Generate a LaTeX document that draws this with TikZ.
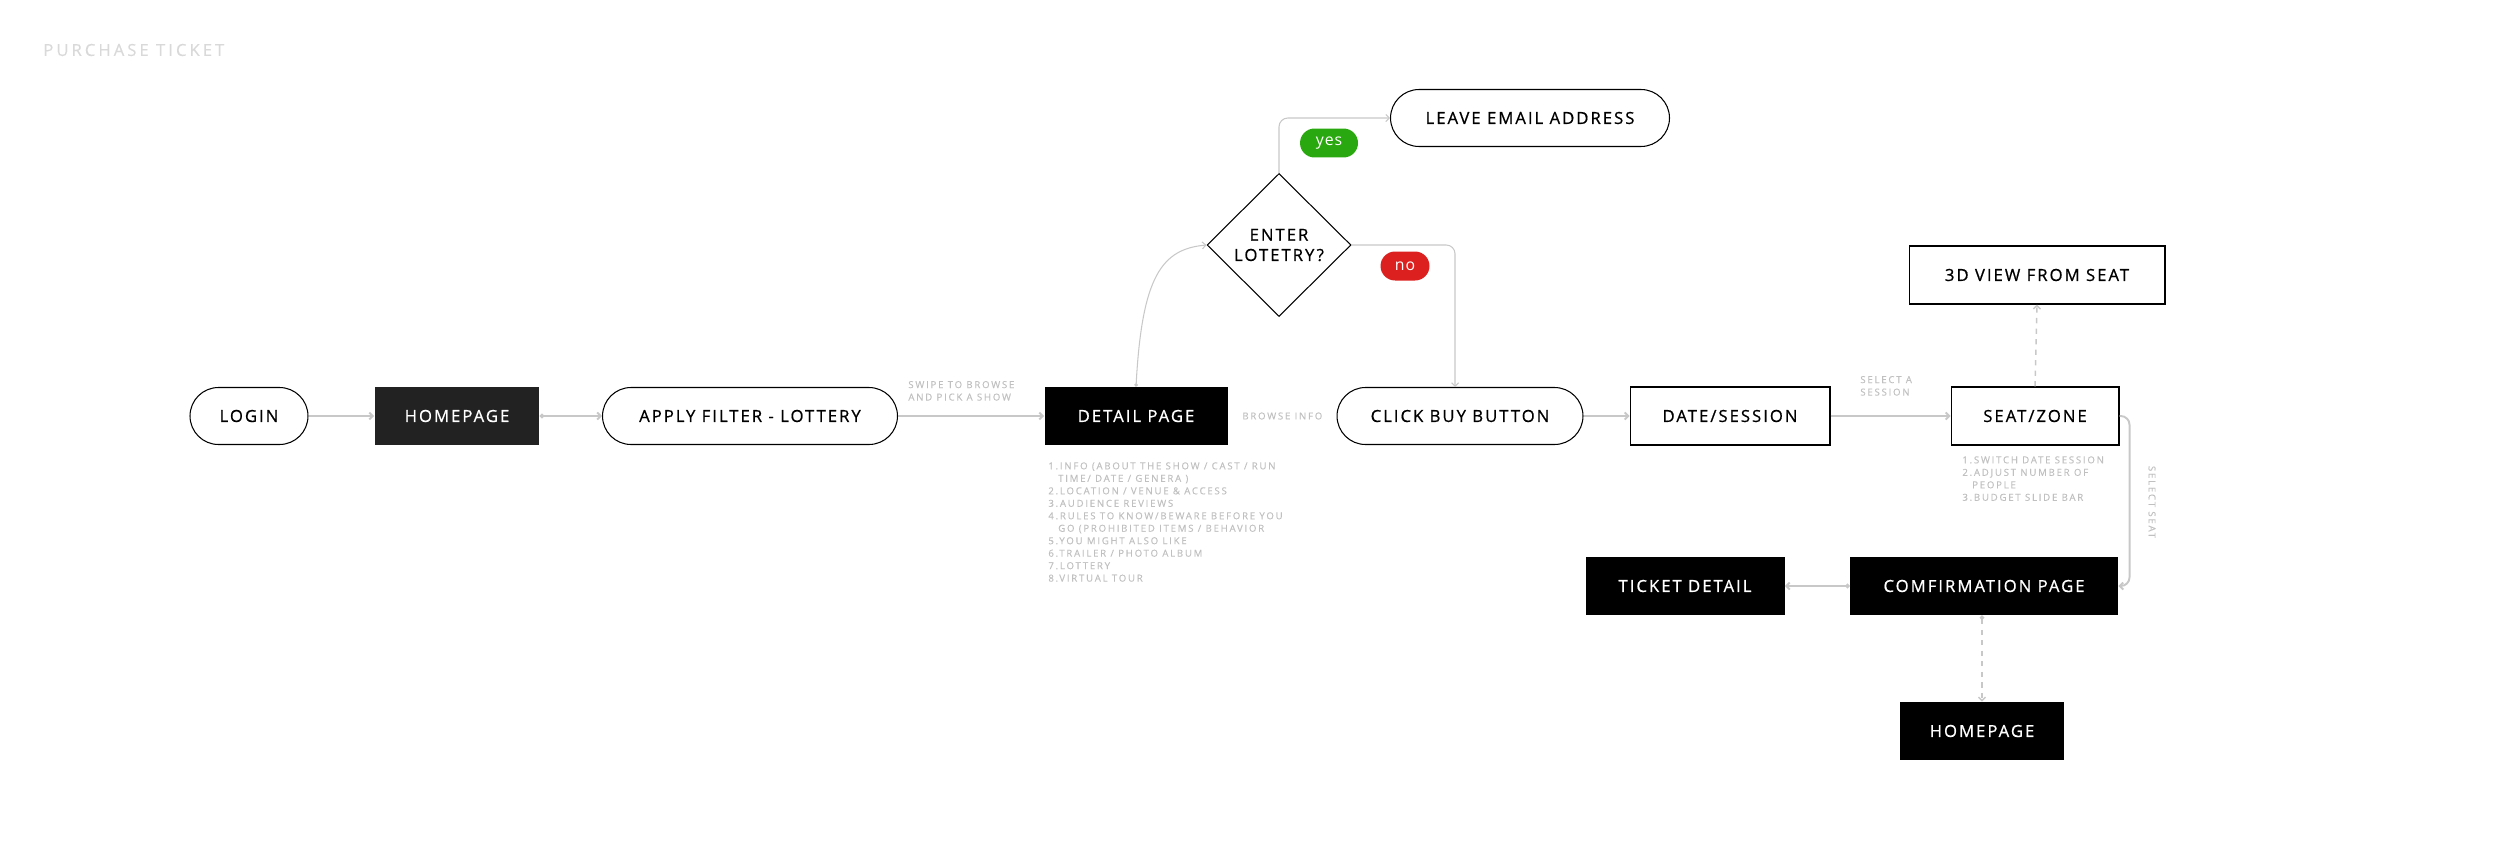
\documentclass[tikz,border=0pt]{standalone}
\usepackage{fontspec}
\usetikzlibrary{arrows.meta,shapes.geometric}
\newfontfamily\boxfont[LetterSpace=12,FakeBold=0.7]{Open Sans}
\newfontfamily\notefont[LetterSpace=18,FakeBold=0.3]{Open Sans}
\newfontfamily\tagfont[LetterSpace=6]{Open Sans}
\definecolor{linegray}{HTML}{C8C8C8}
\definecolor{notegray}{HTML}{C0C0C0}
\definecolor{yesgreen}{HTML}{2AA80F}
\definecolor{nored}{HTML}{DC2020}
\definecolor{darkbox}{HTML}{222222}
\begin{document}
\begin{tikzpicture}[x=0.02cm, y=-0.02cm,
    pill/.style={draw, line width=0.6pt, rounded corners=0.57cm, minimum height=1.14cm,
        inner sep=0pt, font=\boxfont\fontsize{9.5}{11}\selectfont},
    blackbox/.style={fill=black, text=white, minimum height=1.16cm, inner sep=0pt,
        font=\boxfont\fontsize{9.5}{11}\selectfont},
    whitebox/.style={draw, line width=0.6pt, minimum height=1.16cm, inner sep=0pt,
        font=\boxfont\fontsize{9.5}{11}\selectfont},
    tag/.style={rounded corners=0.29cm, minimum height=0.58cm, text=white, inner sep=0pt,
        font=\tagfont\fontsize{9}{10}\selectfont},
    note/.style={text=notegray, inner sep=0pt, align=left,
        font=\notefont\fontsize{5.5}{7.1}\selectfont},
    link/.style={draw=linegray, line width=1.1pt, -{Straight Barb[length=2pt]}},
    thinlink/.style={draw=linegray, line width=0.6pt, rounded corners=5pt, -{Straight Barb[length=2pt]}},
    dotted link/.style={link, dashed, {Circle[length=2.5pt]}-{Straight Barb[length=2pt]}}]

    \useasboundingbox (0,0) rectangle (2500,845);

    %% Title
    \node[note, anchor=west, font=\notefont\fontsize{9.5}{11}\selectfont, text=gray!30] (title) at (43,50) {PURCHASE TICKET};

    %% Main row
    \node[pill, minimum width=2.36cm] (login) at (249,416) {LOGIN};
    \node[blackbox, fill=darkbox, minimum width=3.3cm] (home) at (457,416) {HOMEPAGE};
    \node[pill, minimum width=5.9cm] (filter) at (750,416) {APPLY FILTER - LOTTERY};
    \node[blackbox, minimum width=3.66cm] (detail) at (1136,416) {DETAIL PAGE};
    \node[pill, minimum width=4.92cm] (buy) at (1460,416) {CLICK BUY BUTTON};
    \node[whitebox, minimum width=4cm] (date) at (1730,416) {DATE/SESSION};
    \node[whitebox, minimum width=3.36cm] (seat) at (2035,416) {SEAT/ZONE};

    %% Lottery branch
    \node[draw, diamond, line width=0.6pt, aspect=1, minimum width=2.88cm, minimum height=2.86cm,
        inner sep=0pt, align=center, font=\boxfont\fontsize{9.5}{11.5}\selectfont] (lottery) at (1279,245) {ENTER\\LOTETRY?};
    \node[pill, minimum width=5.58cm] (email) at (1530,118) {LEAVE EMAIL ADDRESS};
    \node[tag, fill=yesgreen, minimum width=1.16cm] (yes) at (1329,143) {yes};
    \node[tag, fill=nored, minimum width=0.98cm] (no) at (1405,266) {no};
    \coordinate (buyin) at (1455,387);

    %% Seat and confirmation
    \node[whitebox, minimum width=5.12cm] (view) at (2037,275) {3D VIEW FROM SEAT};
    \node[blackbox, minimum width=3.98cm] (ticket) at (1685,586) {TICKET DETAIL};
    \node[blackbox, minimum width=5.36cm] (confirm) at (1984,586) {COMFIRMATION PAGE};
    \node[blackbox, minimum width=3.28cm] (home2) at (1982,731) {HOMEPAGE};

    %% Notes
    \node[note, anchor=south west] (swipe) at (908,401) {SWIPE TO BROWSE\\AND PICK A SHOW};
    \node[note, anchor=west] (browse) at (1242,416) {BROWSE INFO};
    \node[note, anchor=north west] (info) at (1048,462) {1.INFO (ABOUT THE SHOW / CAST / RUN\\
        \phantom{1.}TIME/ DATE / GENERA )\\
        2.LOCATION / VENUE \& ACCESS\\
        3.AUDIENCE REVIEWS\\
        4.RULES TO KNOW/BEWARE BEFORE YOU\\
        \phantom{4.}GO (PROHIBITED ITEMS / BEHAVIOR\\
        5.YOU MIGHT ALSO LIKE\\
        6.TRAILER / PHOTO ALBUM\\
        7.LOTTERY\\
        8.VIRTUAL TOUR};
    \node[note, anchor=south west] (session) at (1860,396) {SELECT A\\SESSION};
    \node[note, anchor=north west] (seatinfo) at (1962,456) {1.SWITCH DATE SESSION\\
        2.ADJUST NUMBER OF\\
        \phantom{2.}PEOPLE\\
        3.BUDGET SLIDE BAR};
    \node[note, rotate=-90] (selseat) at (2152,502) {SELECT SEAT};

    %% Connectors
    \draw[link] (login.east) -- (home.west);
    \draw[link, {Circle[length=2.5pt]}-{Straight Barb[length=2pt]}] (home.east) -- (filter.west);
    \draw[link] (filter.east) -- (detail.west);
    \draw[thinlink, {Circle[length=2pt]}-{Straight Barb[length=2pt]}] (detail.north) .. controls +(6,-110) and +(-45,4) .. (lottery.west);
    \draw[thinlink] (lottery.north) |- (email.west);
    \draw[thinlink] (lottery.east) -| (buyin);
    \draw[link] (buy.east) -- (date.west);
    \draw[link] (date.east) -- (seat.west);
    \draw[link, dashed, line width=0.8pt] (seat.north) -- (view.south);
    \draw[link, rounded corners=5pt] (seat.east) -- ++(10,0) |- (confirm.east);
    \draw[link, {Circle[length=2.5pt]}-{Straight Barb[length=2pt]}] (confirm.west) -- (ticket.east);
    \draw[dotted link, line width=0.8pt] (confirm.south -| home2.north) -- (home2.north);

\end{tikzpicture}
\end{document}
